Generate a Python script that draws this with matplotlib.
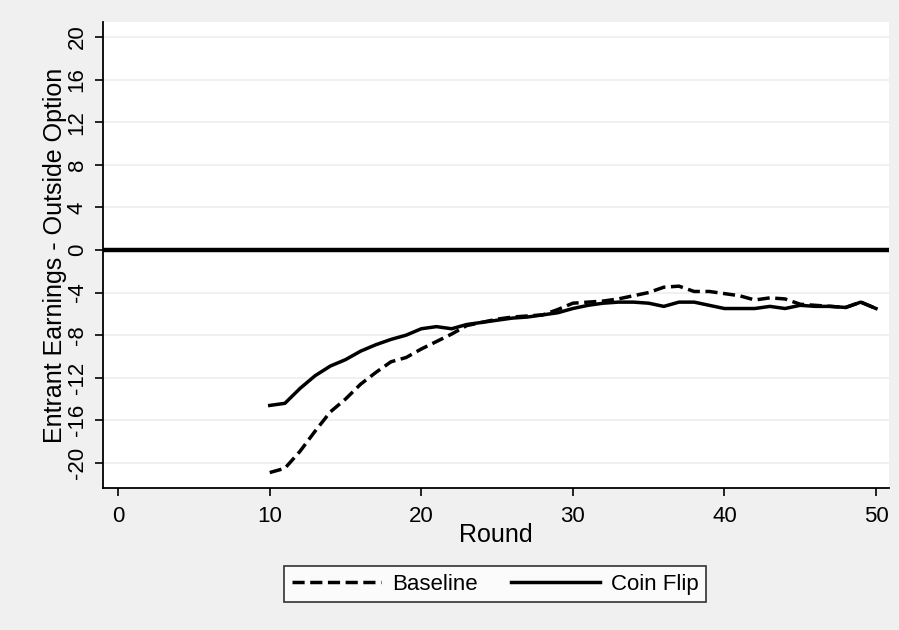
import numpy as np
import matplotlib
matplotlib.use('Agg')
import matplotlib.pyplot as plt

plt.rcParams['font.family'] = ['Liberation Sans', 'DejaVu Sans']

# ── Data ────────────────────────────────────────────────────────────────
rounds = list(range(10, 51))
baseline = [-20.9, -20.5, -18.9, -17.0, -15.2, -14.0, -12.6, -11.5, -10.5, -10.1,
            -9.3, -8.6, -7.9, -7.1, -6.8, -6.5, -6.3, -6.2, -6.1, -5.6,
            -5.0, -4.9, -4.8, -4.6, -4.3, -4.0, -3.5, -3.4, -3.9, -3.9,
            -4.1, -4.3, -4.7, -4.5, -4.6, -5.1, -5.2, -5.3, -5.4, -4.9,
            -5.5]
coin_flip = [-14.6, -14.4, -13.0, -11.8, -10.9, -10.3, -9.5, -8.9, -8.4, -8.0,
             -7.4, -7.2, -7.4, -7.0, -6.8, -6.6, -6.4, -6.3, -6.1, -5.9,
             -5.5, -5.2, -5.0, -4.9, -4.9, -5.0, -5.3, -4.9, -4.9, -5.2,
             -5.5, -5.5, -5.5, -5.3, -5.5, -5.2, -5.3, -5.3, -5.4, -4.9,
             -5.5]
yticks = list(range(-20, 21, 4))
xticks = [0, 10, 20, 30, 40, 50]

BG = '#f0f0f0'
fig = plt.figure(figsize=(8.99, 6.3), dpi=100, facecolor=BG)
ax = fig.add_axes([0.1146, 0.2254, 0.8743, 0.7397])
ax.set_facecolor('white')

for y in yticks:
    ax.axhline(y, color='#eeeeee', lw=1.2, zorder=1)
ax.axhline(0, color='black', lw=3.2, zorder=3)

ax.plot(rounds, baseline, color='black', lw=2.5, ls=(0, (3.5, 1.6)), label='Baseline', zorder=4)
ax.plot(rounds, coin_flip, color='black', lw=2.5, label='Coin Flip', zorder=4)

ax.set_xlim(-1.0, 50.86)
ax.set_ylim(-22.35, 21.4)
ax.set_yticks(yticks)
ax.set_yticklabels([str(v) for v in yticks], rotation=90, va='center', fontsize=16)
ax.set_xticks(xticks)
ax.set_xticklabels([str(v) for v in xticks], fontsize=16)
ax.tick_params(axis='both', direction='out', length=6, width=1.2, color='black')
ax.tick_params(axis='x', pad=7)
ax.tick_params(axis='y', pad=5)

for s in ['top', 'right']:
    ax.spines[s].set_visible(False)
for s in ['left', 'bottom']:
    ax.spines[s].set_linewidth(1.3)

ax.set_xlabel('Round', fontsize=18, labelpad=-3)
ax.set_ylabel('Entrant Earnings - Outside Option', fontsize=18, labelpad=0)

leg = fig.legend(loc='center', bbox_to_anchor=(0.551, 0.073), ncol=2, fontsize=16,
                 frameon=True, fancybox=False, edgecolor='black',
                 handlelength=4.0, columnspacing=1.5, borderpad=0.35,
                 handletextpad=0.5, borderaxespad=0)
leg.get_frame().set_linewidth(1.2)

fig.savefig('out.png', dpi=100, facecolor=BG)
